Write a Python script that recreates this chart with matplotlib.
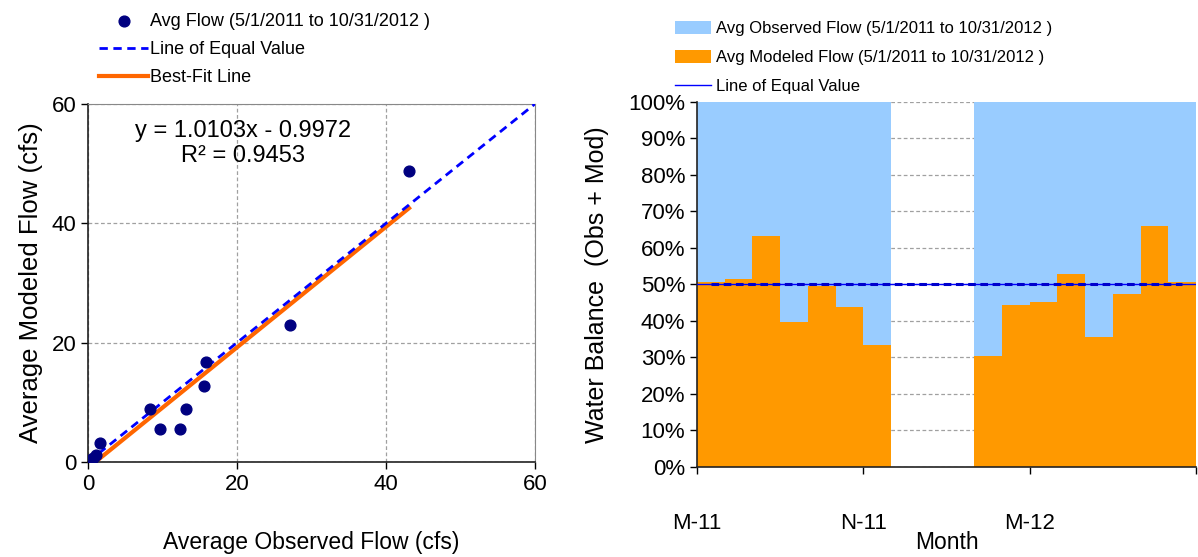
import numpy as np
import matplotlib.pyplot as plt
from matplotlib.ticker import PercentFormatter

plt.rcParams['font.family'] = ['Liberation Sans', 'DejaVu Sans']

# scatter: average monthly flows (cfs)
obs_flow = [43.1, 27.1, 15.8, 15.6, 8.3, 13.1, 9.65, 12.4, 1.67, 1.1, 0.7, 0.3, 0.1, 0.0, 0.05]
mod_flow = [48.8, 22.9, 16.8, 12.8, 8.8, 8.8, 5.5, 5.5, 3.2, 1.25, 0.75, 0.4, 0.2, 0.0, 0.05]
fit_slope = 1.0103
fit_intercept = -0.9972
fit_r2 = 0.9453

# water balance: modeled share of (obs + mod), % per month, May-2011 .. Oct-2012
months = ['May-11', 'Jun-11', 'Jul-11', 'Aug-11', 'Sep-11', 'Oct-11', 'Nov-11', 'Dec-11', 'Jan-12',
          'Feb-12', 'Mar-12', 'Apr-12', 'May-12', 'Jun-12', 'Jul-12', 'Aug-12', 'Sep-12', 'Oct-12']
mod_pct = [50.6, 51.5, 63.3, 39.8, 49.6, 43.9, 33.5, np.nan, np.nan,
           np.nan, 30.4, 44.5, 45.2, 52.9, 35.6, 47.4, 66.0, 50.6]
month_ticks = ['M-11', 'N-11', 'M-12', '']

label = 'Avg Flow (5/1/2011 to 10/31/2012 )'

fig = plt.figure(figsize=(11.98, 5.57), dpi=100)

# ---- left: scatter ----
ax1 = fig.add_axes([0.0735, 0.1706, 0.373, 0.6427])
ax1.plot([0, 60], [0, 60], color='#0000ff', ls=(0, (3, 2)), lw=2, label='Line of Equal Value', zorder=3)
xs = np.array([min(obs_flow), max(obs_flow)])
ax1.plot(xs, fit_slope * xs + fit_intercept, color='#ff6600', lw=3, label='Best-Fit Line', zorder=2)
ax1.scatter(obs_flow, mod_flow, s=60, color='#000080', label=label, zorder=4)
ax1.set_xlim(0, 60)
ax1.set_ylim(0, 60)
ax1.set_xticks([0, 20, 40, 60])
ax1.set_yticks([0, 20, 40, 60])
ax1.grid(True, ls=(0, (3, 2)), color='#a0a0a0', lw=0.9)
ax1.set_axisbelow(True)
for s in ['top', 'right']:
    ax1.spines[s].set_color('#888888')
for s in ['left', 'bottom']:
    ax1.spines[s].set_color('#222222')
    ax1.spines[s].set_linewidth(1.2)
ax1.tick_params(direction='out', length=5, labelsize=16, width=1)
ax1.set_xlabel('Average Observed Flow (cfs)', fontsize=16.5)
ax1.xaxis.set_label_coords(0.5, -0.193)
ax1.set_ylabel('Average Modeled Flow (cfs)', fontsize=18.5, labelpad=6)
ax1.text(20.8, 57.3, f'y = {fit_slope}x - {abs(fit_intercept)}\nR² = {fit_r2}', fontsize=17,
         ha='center', va='top', linespacing=1.15, multialignment='center')
h, l = ax1.get_legend_handles_labels()
ax1.legend([h[2], h[0], h[1]], [l[2], l[0], l[1]], loc='upper left', bbox_to_anchor=(0.077, 0.99),
           bbox_transform=fig.transFigure, frameon=False, fontsize=13, handlelength=2.7,
           handletextpad=0.1, labelspacing=0.62, borderaxespad=0)

# ---- right: water balance ----
ax2 = fig.add_axes([0.5818, 0.1616, 0.4165, 0.6553])
x = np.arange(len(months))
mod = np.array(mod_pct)
ax2.bar(x, 100 - mod, bottom=mod, width=1, align='edge', color='#99ccff',
        label='Avg Observed Flow (5/1/2011 to 10/31/2012 )', zorder=2)
ax2.bar(x, mod, width=1, align='edge', color='#ff9900',
        label='Avg Modeled Flow (5/1/2011 to 10/31/2012 )', zorder=2)
ax2.axhline(50, color='#0000ff', lw=1, label='Line of Equal Value', zorder=3)
ax2.plot([0.5, len(months) - 0.5], [50, 50], color='#0000cc', lw=2.2, ls=(0, (2.5, 1.5)), zorder=3)
ax2.set_xlim(0, len(months))
ax2.set_ylim(0, 100)
ax2.set_xticks([0, 6, 12, 18])
ax2.set_xticklabels(month_ticks)
ax2.set_yticks(np.arange(0, 101, 10))
ax2.yaxis.set_major_formatter(PercentFormatter(decimals=0))
ax2.grid(True, axis='y', ls=(0, (3, 2)), color='#a0a0a0', lw=0.9, zorder=0)
ax2.set_axisbelow(True)
for s in ['top', 'right']:
    ax2.spines[s].set_visible(False)
for s in ['left', 'bottom']:
    ax2.spines[s].set_color('#222222')
    ax2.spines[s].set_linewidth(1.2)
ax2.tick_params(direction='out', length=5, labelsize=16, width=1)
ax2.tick_params(axis='x', pad=28)
ax2.set_xlabel('Month', fontsize=16.5)
ax2.xaxis.set_label_coords(0.5, -0.175)
ax2.set_ylabel('Water Balance  (Obs + Mod)', fontsize=18, labelpad=14)
h2, l2 = ax2.get_legend_handles_labels()
order = [l2.index('Avg Observed Flow (5/1/2011 to 10/31/2012 )'),
         l2.index('Avg Modeled Flow (5/1/2011 to 10/31/2012 )'),
         l2.index('Line of Equal Value')]
ax2.legend([h2[i] for i in order], [l2[i] for i in order], loc='upper left',
           bbox_to_anchor=(0.5575, 0.975), bbox_transform=fig.transFigure,
           frameon=False, fontsize=12, handlelength=2.2, handleheight=0.9,
           handletextpad=0.3, labelspacing=0.8, borderaxespad=0)

fig.savefig('out.png', dpi=100)
